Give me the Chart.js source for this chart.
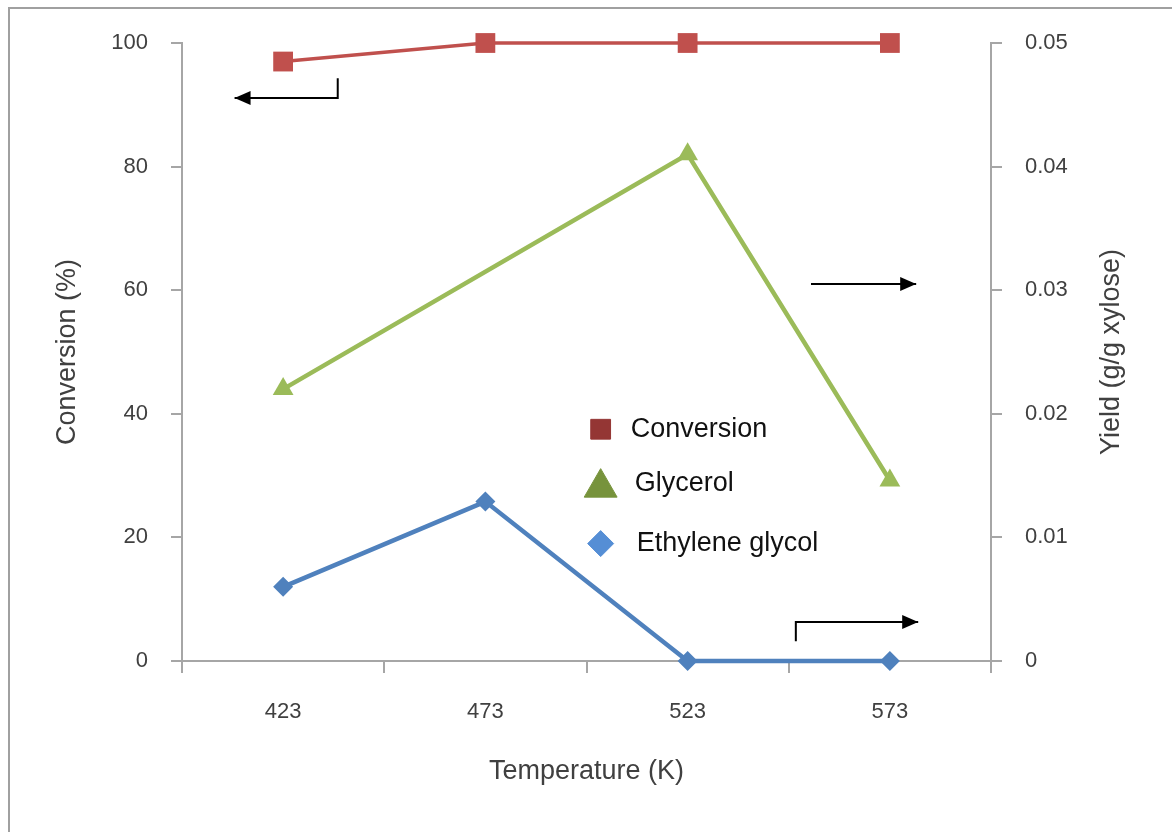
<!DOCTYPE html>
<html>
<head>
<meta charset="utf-8">
<script src="https://cdn.jsdelivr.net/npm/chart.js@4/dist/chart.umd.min.js"></script>
<style>
  html, body { margin: 0; padding: 0; background: #fff; }
  #wrap { width: 1172px; height: 832px; }
</style>
</head>
<body>
<div id="wrap"><canvas id="chart" width="1172" height="832"></canvas></div>
<script>
const temperatures = ['423', '473', '523', '573'];
const conversion = [97, 100, 100, 100];
const glycerol = [0.022, null, 0.041, 0.0146];
const ethyleneGlycol = [0.006, 0.0129, 0, 0];
const leftTicks = [0, 20, 40, 60, 80, 100];
const rightTicks = [0, 0.01, 0.02, 0.03, 0.04, 0.05];

const FONT = '"Liberation Sans", Arial, sans-serif';
const AXIS_GRAY = '#a6a6a6';
const TEXT = '#404040';

// legend entries (drawn inside the plot)
const legendItems = [
    { label: 'Conversion', style: 'rect', color: '#943634', radius: 14, dx: 0 },
    { label: 'Glycerol', style: 'triangle', color: '#77933C', radius: 19, dx: 4 },
    { label: 'Ethylene glycol', style: 'rectRot', color: '#558ED5', radius: 13, dx: 6 }
];

// arrows pointing at the axis of each series: [x index, left-axis value] points
const arrows = [
    [[0.27, 94.3], [0.27, 91.1], [-0.24, 91.1]],
    [[2.61, 61.0], [3.13, 61.0]],
    [[2.535, 3.2], [2.535, 6.3], [3.14, 6.3]]
];

function drawArrow(ctx, pts) {
    ctx.save();
    ctx.strokeStyle = '#000';
    ctx.fillStyle = '#000';
    ctx.lineWidth = 2;
    ctx.beginPath();
    ctx.moveTo(pts[0][0], pts[0][1]);
    for (let i = 1; i < pts.length; i++) ctx.lineTo(pts[i][0], pts[i][1]);
    ctx.stroke();
    const a = pts[pts.length - 2], b = pts[pts.length - 1];
    const ang = Math.atan2(b[1] - a[1], b[0] - a[0]);
    const len = 16, hw = 7;
    ctx.beginPath();
    ctx.moveTo(b[0], b[1]);
    ctx.lineTo(b[0] - len * Math.cos(ang) + hw * Math.sin(ang), b[1] - len * Math.sin(ang) - hw * Math.cos(ang));
    ctx.lineTo(b[0] - len * Math.cos(ang) - hw * Math.sin(ang), b[1] - len * Math.sin(ang) + hw * Math.cos(ang));
    ctx.closePath();
    ctx.fill();
    ctx.restore();
}

const extras = {
    id: 'extras',
    beforeDraw(chart) {
        const ctx = chart.ctx;
        ctx.save();
        ctx.strokeStyle = '#a0a0a0';
        ctx.lineWidth = 2;
        ctx.strokeRect(9, 8, 1200, 900);
        ctx.restore();
    },
    afterDraw(chart) {
        const ctx = chart.ctx;
        const x = chart.scales.x, y = chart.scales.y;
        const area = chart.chartArea;

        arrows.forEach(a => drawArrow(ctx, a.map(p => [x.getPixelForValue(p[0]), y.getPixelForValue(p[1])])));

        // legend
        ctx.save();
        const lx = x.getPixelForValue(1.57);
        const ly = [y.getPixelForValue(37.5), y.getPixelForValue(28.7), y.getPixelForValue(19.0)];
        legendItems.forEach((it, i) => {
            ctx.fillStyle = it.color;
            ctx.strokeStyle = it.color;
            ctx.lineWidth = 1;
            Chart.helpers.drawPoint(ctx, { pointStyle: it.style, radius: it.radius, rotation: 0, borderWidth: 1 }, lx, ly[i] + (it.style === 'triangle' ? 4 : 0));
            ctx.fillStyle = '#111';
            ctx.font = '27px ' + FONT;
            ctx.textBaseline = 'middle';
            ctx.textAlign = 'left';
            ctx.fillText(it.label, lx + 30 + it.dx, ly[i]);
        });
        ctx.restore();

        // axis titles
        ctx.save();
        ctx.fillStyle = TEXT;
        ctx.font = '27px ' + FONT;
        ctx.textAlign = 'center';
        ctx.textBaseline = 'middle';
        ctx.fillText('Temperature (K)', (area.left + area.right) / 2, 772);
        ctx.translate(68, (area.top + area.bottom) / 2);
        ctx.rotate(-Math.PI / 2);
        ctx.fillText('Conversion (%)', 0, 0);
        ctx.restore();
        ctx.save();
        ctx.fillStyle = TEXT;
        ctx.font = '27px ' + FONT;
        ctx.textAlign = 'center';
        ctx.textBaseline = 'middle';
        ctx.translate(1112, (area.top + area.bottom) / 2);
        ctx.rotate(-Math.PI / 2);
        ctx.fillText('Yield (g/g xylose)', 0, 0);
        ctx.restore();
    }
};

const tickFont = { family: FONT, size: 22 };

new Chart(document.getElementById('chart'), {
    type: 'line',
    data: {
        labels: temperatures,
        datasets: [
            {
                label: 'Conversion',
                data: conversion,
                yAxisID: 'y',
                clip: false,
                borderColor: '#C0504D',
                backgroundColor: '#C0504D',
                borderWidth: 3.5,
                pointStyle: 'rect',
                pointRadius: 14,
                pointBorderWidth: 0,
                tension: 0
            },
            {
                label: 'Glycerol',
                data: glycerol,
                yAxisID: 'y1',
                clip: false,
                spanGaps: true,
                borderColor: '#9BBB59',
                backgroundColor: '#9BBB59',
                borderWidth: 4.5,
                pointStyle: 'triangle',
                pointRadius: 12,
                pointBorderWidth: 0,
                tension: 0
            },
            {
                label: 'Ethylene glycol',
                data: ethyleneGlycol,
                yAxisID: 'y1',
                clip: false,
                borderColor: '#4F81BD',
                backgroundColor: '#4F81BD',
                borderWidth: 4.5,
                pointStyle: 'rectRot',
                pointRadius: 10,
                pointBorderWidth: 0,
                tension: 0
            }
        ]
    },
    options: {
        responsive: false,
        animation: false,
        layout: { padding: { top: 43, left: 0, right: 0, bottom: 0 } },
        plugins: { legend: { display: false }, tooltip: { enabled: false } },
        scales: {
            x: {
                type: 'category',
                offset: true,
                grid: { offset: true, drawOnChartArea: false, drawTicks: true, tickLength: 12, color: AXIS_GRAY, lineWidth: 2 },
                border: { color: AXIS_GRAY, width: 2 },
                ticks: { color: TEXT, font: tickFont, padding: 26, maxRotation: 0 },
                afterFit(s) { s.height = 171; }
            },
            y: {
                position: 'left',
                min: 0,
                max: 100,
                afterBuildTicks(s) { s.ticks = leftTicks.map(v => ({ value: v })); },
                grid: { drawOnChartArea: false, drawTicks: true, tickLength: 11, color: AXIS_GRAY, lineWidth: 2 },
                border: { color: AXIS_GRAY, width: 2 },
                ticks: { color: TEXT, font: tickFont, padding: 23 },
                afterFit(s) { s.width = 182; }
            },
            y1: {
                position: 'right',
                min: 0,
                max: 0.05,
                afterBuildTicks(s) { s.ticks = rightTicks.map(v => ({ value: v })); },
                grid: { drawOnChartArea: false, drawTicks: true, tickLength: 11, color: AXIS_GRAY, lineWidth: 2 },
                border: { color: AXIS_GRAY, width: 2 },
                ticks: { color: TEXT, font: tickFont, padding: 23, callback: v => String(v) },
                afterFit(s) { s.width = 181; }
            }
        }
    },
    plugins: [extras]
});
</script>
</body>
</html>
